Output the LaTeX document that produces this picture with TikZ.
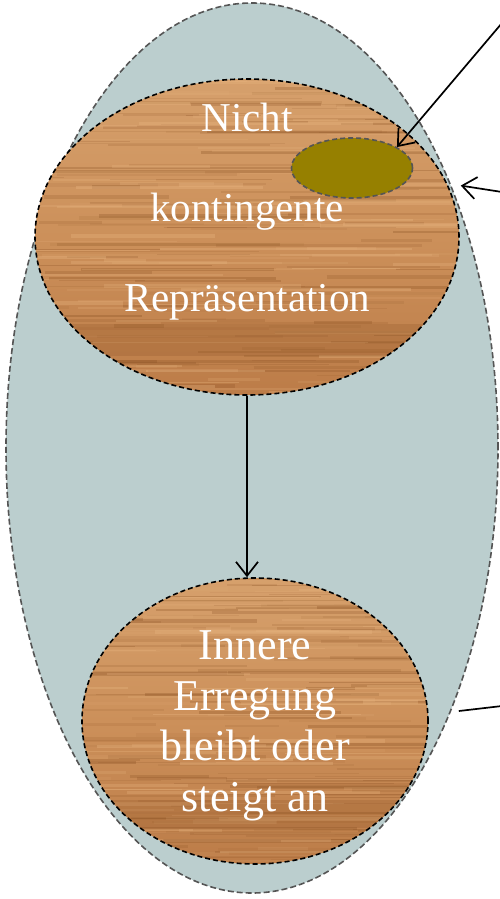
\documentclass[tikz,border=0pt]{standalone}
\usepackage{fontspec}
\setmainfont{Liberation Serif}
\usetikzlibrary{arrows.meta,shapes.geometric}
\definecolor{outerfill}{RGB}{187,206,206}
\definecolor{woodtop}{RGB}{214,160,108}
\definecolor{woodbase}{RGB}{204,144,90}
\definecolor{woodbot}{RGB}{188,124,72}
\definecolor{woodlight}{RGB}{230,178,125}
\definecolor{wooddark}{RGB}{135,78,32}
\definecolor{olivefill}{RGB}{150,128,0}
\definecolor{dashgray}{RGB}{85,85,85}
\newcommand\woodgrain[5]{%
  \begin{scope}
    \clip (#1,#2) ellipse [x radius=#3, y radius=#4];
    \shade[top color=woodtop, bottom color=woodbot, middle color=woodbase]
      (#1-#3,#2-#4) rectangle (#1+#3,#2+#4);
    \pgfmathsetseed{#5}
    \foreach \k in {1,...,130}{
      \pgfmathsetmacro\yy{#2-#4+rnd*2*#4}
      \pgfmathsetmacro\xx{#1-#3-60+rnd*2*#3}
      \pgfmathsetmacro\ll{40+rnd*240}
      \pgfmathsetmacro\ww{0.8+rnd*2.8}
      \pgfmathsetmacro\oo{0.06+rnd*0.24}
      \draw[wooddark, line width=\ww pt, opacity=\oo] (\xx,\yy) -- ++(\ll,0);
    }
    \foreach \k in {1,...,90}{
      \pgfmathsetmacro\yy{#2-#4+rnd*2*#4}
      \pgfmathsetmacro\xx{#1-#3-60+rnd*2*#3}
      \pgfmathsetmacro\ll{40+rnd*240}
      \pgfmathsetmacro\ww{0.8+rnd*3}
      \pgfmathsetmacro\oo{0.1+rnd*0.3}
      \draw[woodlight, line width=\ww pt, opacity=\oo] (\xx,\yy) -- ++(\ll,0);
    }
    \fill[wooddark, opacity=0.22] (#1-#3,#2+0.55*#4) rectangle (#1+#3,#2+0.75*#4);
  \end{scope}}
\tikzset{
  outerblob/.style={ellipse, inner sep=0pt, fill=outerfill, draw=dashgray,
    dash pattern=on 6pt off 3pt, line width=1.6pt},
  woodblob/.style={ellipse, inner sep=0pt, draw=black,
    dash pattern=on 5pt off 3pt, line width=1.6pt},
  oliveblob/.style={ellipse, inner sep=0pt, fill=olivefill, draw=dashgray,
    dash pattern=on 5pt off 3pt, line width=1.6pt},
  woodtext/.style={text=white, align=center, inner sep=0pt},
  link/.style={line width=1.7pt, -{Straight Barb[length=14pt,width=22pt,line width=1.7pt]}},
  plainlink/.style={line width=1.7pt}
}
\begin{document}
\begin{tikzpicture}[x=1pt,y=-1pt]
\useasboundingbox (0,0) rectangle (500,899);
\node[outerblob, minimum width=492pt, minimum height=890pt] (outer) at (252,448) {};
\woodgrain{247}{237}{212}{158}{7}
\woodgrain{255}{721}{173}{143}{13}
\node[woodblob, minimum width=424pt, minimum height=316pt] (top) at (247,237) {};
\node[woodblob, minimum width=346pt, minimum height=286pt] (bottom) at (255,721) {};
\node[oliveblob, minimum width=121pt, minimum height=60pt] (olive) at (352,168) {};
\node[woodtext, font=\fontsize{41}{90}\selectfont] (toptext) at (247,212)
  {Nicht\\kontingente\\Repräsentation};
\node[woodtext, font=\fontsize{44}{50.5}\selectfont] (bottomtext) at (255,726)
  {Innere\\Erregung\\bleibt oder\\steigt an};
\coordinate (c1) at (502,23);
\coordinate (c2) at (502,192);
\coordinate (c3) at (502,706);
\draw[link] (c1) -- (olive.25);
\draw[link, shorten >=10pt] (c2) -- (outer.53);
\draw[plainlink, shorten >=8pt] (c3) -- (outer.-53);
\draw[link] (top.south) -- (top.south |- bottom.north);
\end{tikzpicture}
\end{document}
